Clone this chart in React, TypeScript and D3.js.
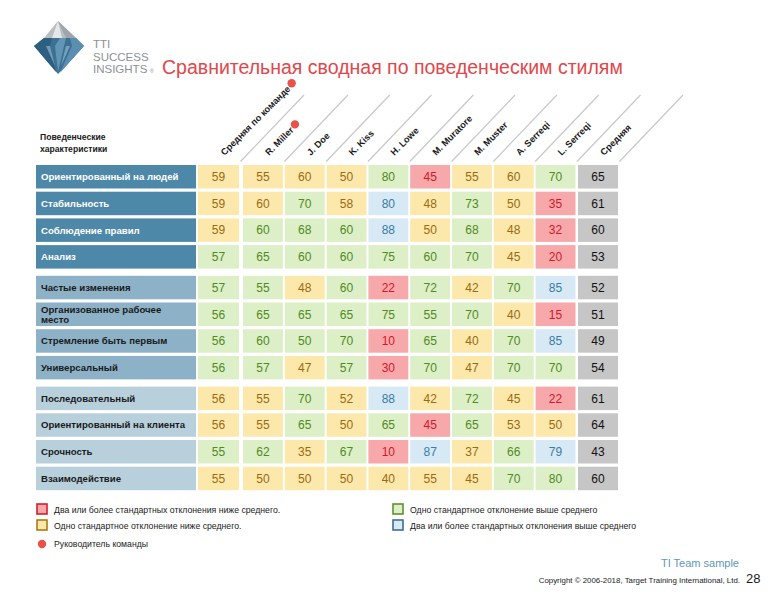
import React, { useEffect, useRef } from "react";
import * as d3 from "d3";

const columns = ["Средняя по команде", "R. Miller", "J. Doe", "K. Kiss", "H. Lowe", "M. Muratore", "M. Muster", "A. Serreqi", "L. Serreqi", "Средняя"];
const leaderCols = ["Средняя по команде", "R. Miller"];

const rowLabels = [
  "Ориентированный на людей",
  "Стабильность",
  "Соблюдение правил",
  "Анализ",
  "Частые изменения",
  "Организованное рабочее|место",
  "Стремление быть первым",
  "Универсальный",
  "Последовательный",
  "Ориентированный на клиента",
  "Срочность",
  "Взаимодействие",
];
const rowGroups = [0, 0, 0, 0, 1, 1, 1, 1, 2, 2, 2, 2];

// team average + 8 people
const values = [
  [59, 55, 60, 50, 80, 45, 55, 60, 70],
  [59, 60, 70, 58, 80, 48, 73, 50, 35],
  [59, 60, 68, 60, 88, 50, 68, 48, 32],
  [57, 65, 60, 60, 75, 60, 70, 45, 20],
  [57, 55, 48, 60, 22, 72, 42, 70, 85],
  [56, 65, 65, 65, 75, 55, 70, 40, 15],
  [56, 60, 50, 70, 10, 65, 40, 70, 85],
  [56, 57, 47, 57, 30, 70, 47, 70, 70],
  [56, 55, 70, 52, 88, 42, 72, 45, 22],
  [56, 55, 65, 50, 65, 45, 65, 53, 50],
  [55, 62, 35, 67, 10, 87, 37, 66, 79],
  [55, 50, 50, 50, 40, 55, 45, 70, 80],
];
// R = 2+ SD below, Y = 1 SD below, G = 1 SD above, B = 2+ SD above
const levels = [
  "YYYYGRYYG",
  "YYGYBYGYR",
  "YGGGBYGYR",
  "GGGGGGGYR",
  "GGYGRGYGB",
  "GGGGGGGYR",
  "GGGGRGYGB",
  "GGYGRGYGG",
  "YYGYBYGYR",
  "YYGYGRGYY",
  "GGYGRBYGB",
  "YYYYYYYGG",
];
const averages = [65, 61, 60, 53, 52, 51, 49, 54, 61, 64, 43, 60];

const legendItems = [
  { code: "R", text: "Два или более стандартных отклонения ниже среднего." },
  { code: "Y", text: "Одно стандартное отклонение ниже среднего." },
  { code: "G", text: "Одно стандартное отклонение выше среднего" },
  { code: "B", text: "Два или более стандартных отклонения выше среднего" },
];

const title = "Сравнительная сводная по поведенческим стилям";

const FONT = "'Liberation Sans', Arial, sans-serif";
const fillOf: Record<string, string> = { R: "#f6a8aa", Y: "#fde8ac", G: "#ddefc6", B: "#d6e9f5", A: "#c6c6c6" };
const textOf: Record<string, string> = { R: "#d3182b", Y: "#9a6a10", G: "#4f8a24", B: "#3b7ca3", A: "#111111" };
const strokeOf: Record<string, string> = { R: "#d3202c", Y: "#b07a14", G: "#5f922e", B: "#3d6f93" };
const groupFill = ["#4d88a8", "#8db2c7", "#b8cfdc"];
const groupText = ["#ffffff", "#1a1a1a", "#1a1a1a"];

export default function App() {
  const ref = useRef<SVGSVGElement | null>(null);

  useEffect(() => {
    const svg = d3.select(ref.current);
    svg.selectAll("*").remove();

    // ---- Logo ----
    const logo = svg.append("g");
    logo.append("polygon").attr("points", "44,38 76,38 84,46 58,74 34,46").attr("fill", "#3d7194");
    logo.append("polygon").attr("points", "44,38 52,38 50,46 56,72 34,46").attr("fill", "#2f5f80");
    logo.append("polygon").attr("points", "60,38 66,38 64,46 58,72 55,46").attr("fill", "#6c9fbd").attr("opacity", 0.8);
    logo.append("polygon").attr("points", "70,38 76,38 84,46 60,73 72,46").attr("fill", "#5b8fb0");
    logo.append("polygon").attr("points", "46,46 50,46 55,66").attr("fill", "#8cb6cf").attr("opacity", 0.7);
    logo.append("polygon").attr("points", "66,46 70,46 61,66").attr("fill", "#8cb6cf").attr("opacity", 0.7);
    logo.append("polygon").attr("points", "58,21 44,38 76,38").attr("fill", "#b9bec3");
    logo.append("polygon").attr("points", "58,21 52,38 62,38").attr("fill", "#e4e7ea");
    logo.append("polygon").attr("points", "58,21 66,38 76,38").attr("fill", "#9ea5ab");
    const logoText = ["TTI", "SUCCESS", "INSIGHTS"];
    logoText.forEach((t, i) => {
      logo.append("text").attr("x", 93).attr("y", [48, 61, 73][i]).attr("font-family", FONT)
        .attr("font-size", 11.5).attr("fill", "#8c9196").text(t);
    });
    logo.append("text").attr("x", 150).attr("y", 73).attr("font-family", FONT).attr("font-size", 5).attr("fill", "#8c9196").text("®");

    // ---- Title ----
    svg.append("text").attr("x", 162).attr("y", 74).attr("font-family", FONT).attr("font-size", 19.5)
      .attr("fill", "#e2474b").text(title);

    // ---- Scales ----
    const personCols = columns.slice(1, 9);
    const xPerson = d3.scaleBand<string>().domain(personCols).range([243, 575.5]).paddingInner(0.045).paddingOuter(0);
    const colX = (c: string) => (c === columns[0] ? 198 : c === columns[9] ? 578 : (xPerson(c) as number));
    const colW = (c: string) => (c === columns[0] ? 41 : c === columns[9] ? 40 : xPerson.bandwidth());

    const pitch = 26.7;
    const rowH = 23.5;
    const rowY = (i: number) => 165 + i * pitch + rowGroups[i] * 4;

    // ---- Header ----
    const hdr = svg.append("g").attr("font-family", FONT).attr("font-weight", "bold").attr("font-size", 8.6).attr("fill", "#1a1a1a");
    hdr.append("text").attr("x", 40).attr("y", 140).text("Поведенческие");
    hdr.append("text").attr("x", 40).attr("y", 152).text("характеристики");

    columns.forEach((c) => {
      const right = colX(c) + colW(c) + 1.5;
      svg.append("line").attr("x1", right).attr("y1", 161.5).attr("x2", right + 63.5).attr("y2", 95)
        .attr("stroke", "#c8c8c8").attr("stroke-width", 1.2);
    });

    columns.forEach((c) => {
      const cx = colX(c) + colW(c) / 2;
      const g = svg.append("g").attr("transform", `translate(${cx + 6},${156}) rotate(-45)`);
      const t = g.append("text").attr("x", 0).attr("y", 0).attr("font-family", FONT).attr("font-weight", "bold")
        .attr("font-size", 9.2).attr("fill", "#1a1a1a").text(c);
      if (leaderCols.includes(c)) {
        const len = (t.node() as SVGTextElement).getComputedTextLength();
        g.append("circle").attr("cx", len + 5).attr("cy", -4).attr("r", 4.2).attr("fill", "#e8524a");
      }
    });

    // ---- Row labels ----
    rowLabels.forEach((lab, i) => {
      const gi = rowGroups[i];
      const y = rowY(i);
      svg.append("rect").attr("x", 36).attr("y", y).attr("width", 160).attr("height", rowH).attr("fill", groupFill[gi]);
      const lines = lab.split("|");
      const t = svg.append("text").attr("font-family", FONT).attr("font-weight", "bold").attr("font-size", 9.6)
        .attr("fill", groupText[gi]);
      if (lines.length === 1) {
        t.append("tspan").attr("x", 41).attr("y", y + rowH / 2 + 3.4).text(lines[0]);
      } else {
        t.append("tspan").attr("x", 41).attr("y", y + rowH / 2 - 1.7).text(lines[0]);
        t.append("tspan").attr("x", 41).attr("y", y + rowH / 2 + 8.5).text(lines[1]);
      }
    });

    // ---- Cells ----
    values.forEach((row, i) => {
      const y = rowY(i);
      const cells = row.map((v, j) => ({ v, code: levels[i][j], col: columns[j] }));
      cells.push({ v: averages[i], code: "A", col: columns[9] });
      cells.forEach((d) => {
        svg.append("rect").attr("x", colX(d.col)).attr("y", y).attr("width", colW(d.col)).attr("height", rowH)
          .attr("fill", fillOf[d.code]);
        svg.append("text").attr("x", colX(d.col) + colW(d.col) / 2).attr("y", y + rowH / 2 + 4.3)
          .attr("text-anchor", "middle").attr("font-family", FONT).attr("font-size", 12)
          .attr("fill", textOf[d.code]).text(d.v);
      });
    });

    // ---- Legend ----
    const legPos = [
      { x: 37, y: 504 },
      { x: 37, y: 520 },
      { x: 393, y: 504 },
      { x: 393, y: 520 },
    ];
    legendItems.forEach((it, k) => {
      const p = legPos[k];
      svg.append("rect").attr("x", p.x).attr("y", p.y).attr("width", 10).attr("height", 10)
        .attr("fill", fillOf[it.code]).attr("stroke", strokeOf[it.code]).attr("stroke-width", 1.6);
      svg.append("text").attr("x", p.x + 17).attr("y", p.y + 8.5).attr("font-family", FONT).attr("font-size", 8.7)
        .attr("fill", "#1a1a1a").text(it.text);
    });
    svg.append("circle").attr("cx", 42).attr("cy", 544).attr("r", 4.2).attr("fill", "#e8524a");
    svg.append("text").attr("x", 54).attr("y", 547).attr("font-family", FONT).attr("font-size", 8.7)
      .attr("fill", "#1a1a1a").text("Руководитель команды");

    // ---- Footer ----
    svg.append("text").attr("x", 739).attr("y", 567).attr("text-anchor", "end").attr("font-family", FONT)
      .attr("font-size", 11).attr("fill", "#5d97b5").text("TI Team sample");
    svg.append("text").attr("x", 740).attr("y", 583).attr("text-anchor", "end").attr("font-family", FONT)
      .attr("font-size", 7.9).attr("fill", "#1a1a1a").text("Copyright © 2006-2018, Target Training International, Ltd.");
    svg.append("text").attr("x", 746).attr("y", 583).attr("font-family", FONT)
      .attr("font-size", 13).attr("fill", "#1a1a1a").text("28");
  }, []);

  return (
    <svg ref={ref} width={776} height={600} style={{ position: "absolute", left: 0, top: 0, background: "#fff" }} />
  );
}
